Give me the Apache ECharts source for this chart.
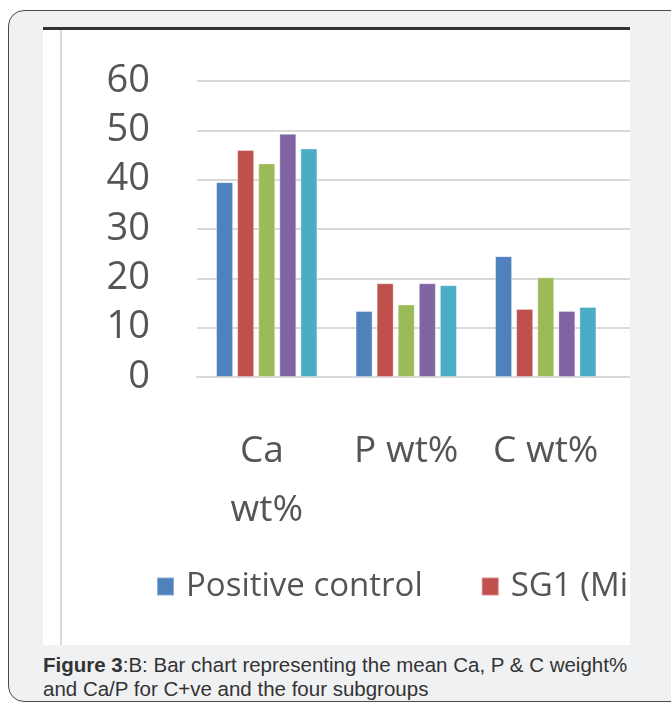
<!DOCTYPE html>
<html>
<head>
<meta charset="utf-8">
<script src="https://cdn.jsdelivr.net/npm/echarts@6/dist/echarts.min.js"></script>
<style>
  html, body { margin: 0; padding: 0; background: #ffffff; width: 671px; height: 707px; overflow: hidden; }
  #box { position: absolute; left: 8px; top: 10px; width: 700px; height: 692px; border: 1.5px solid #4a4a4a;
         border-radius: 16px; background: #f0f1f3; box-sizing: border-box; }
  #wrap { position: absolute; left: 43px; top: 27px; width: 587px; height: 618px; overflow: hidden;
          background: #ffffff; border-top: 3px solid #333333; box-sizing: border-box; }
  #vline { position: absolute; left: 17px; top: 0; width: 2px; height: 100%; background: #d9d9d9; }
  #chart { position: absolute; left: 0; top: 0; width: 800px; height: 615px; }
  #caption { position: absolute; left: 43px; top: 653px; width: 602px; font-family: "Liberation Sans", Arial, sans-serif;
             font-size: 20.5px; line-height: 24px; color: #333333; }
</style>
</head>
<body>
<div id="box"></div>
<div id="wrap"><div id="chart"></div><div id="vline"></div></div>
<div id="caption"><b>Figure 3</b>:B: Bar chart representing the mean Ca, P &amp; C weight% and Ca/P for C+ve and the four subgroups</div>
<script>
const categories = ['Ca wt%', 'P wt%', 'C wt%', 'Ca/P'];
const seriesNames = ['Positive control', 'SG1 (Mi…)', 'SG2', 'SG3', 'SG4'];
const positiveControl = [39.5, 13.4, 24.5, null];
const sg1 = [46.0, 19.0, 13.8, null];
const sg2 = [43.3, 14.7, 20.2, null];
const sg3 = [49.3, 19.0, 13.4, null];
const sg4 = [46.3, 18.6, 14.2, null];
const yTicks = [0, 10, 20, 30, 40, 50, 60];
const colors = ['#4f81bd', '#c0504d', '#9bbb59', '#8064a2', '#4bacc6'];

const values = [positiveControl, sg1, sg2, sg3, sg4];
const chart = echarts.init(document.getElementById('chart'), null, { renderer: 'canvas' });
const font = '"Open Sans", Lato, sans-serif';
chart.setOption({
  animation: false,
  color: colors,
  grid: { left: 154, top: 51, width: 558, height: 296 },
  legend: {
    left: 108, top: 535, itemWidth: 17, itemHeight: 18, itemGap: 58, icon: 'rect',
    data: seriesNames,
    textStyle: { fontFamily: font, fontSize: 33, color: '#555555', padding: [0, 0, 0, 7] }
  },
  xAxis: {
    type: 'category', data: categories,
    axisLine: { show: true, lineStyle: { color: '#d9d9d9', width: 2 } },
    axisTick: { show: false },
    axisLabel: {
      interval: 0, margin: 45, fontFamily: font, fontSize: 37, color: '#555555', lineHeight: 59,
      width: 118, overflow: 'break'
    }
  },
  yAxis: {
    type: 'value', min: yTicks[0], max: yTicks[yTicks.length - 1], interval: 10,
    axisLine: { show: false }, axisTick: { show: false },
    splitLine: { lineStyle: { color: '#d9d9d9', width: 2 } },
    axisLabel: { margin: 47, fontFamily: font, fontSize: 38, color: '#555555' }
  },
  series: seriesNames.map((n, i) => ({
    name: n, type: 'bar', data: values[i], barWidth: 17, barGap: '24%',
    itemStyle: { color: colors[i], borderColor: 'rgba(255,255,255,0.35)', borderWidth: 1 }
  }))
});
</script>
</body>
</html>
